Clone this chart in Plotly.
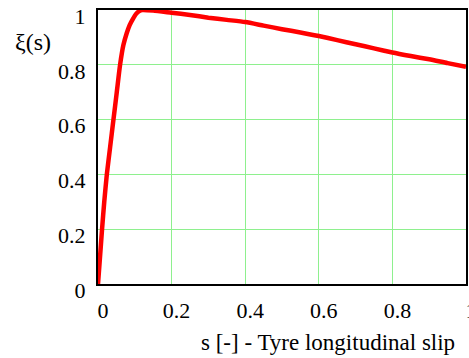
import plotly.graph_objects as go

# Tyre longitudinal slip s and normalised friction xi(s)
slip = [0, 0.005, 0.011, 0.017, 0.024, 0.033, 0.042, 0.051, 0.06, 0.069, 0.078,
        0.086, 0.095, 0.103, 0.112, 0.12, 0.15, 0.2, 0.25, 0.3, 0.35, 0.4, 0.45,
        0.5, 0.55, 0.6, 0.65, 0.7, 0.75, 0.8, 0.85, 0.9, 0.95, 1.0]
xi = [0, 0.09, 0.2, 0.3, 0.4, 0.5, 0.6, 0.7, 0.8, 0.872, 0.915,
      0.945, 0.968, 0.985, 0.996, 1.0, 0.998, 0.99, 0.982, 0.972, 0.964, 0.956, 0.943,
      0.93, 0.918, 0.905, 0.89, 0.875, 0.86, 0.845, 0.832, 0.82, 0.806, 0.793]

tick_vals = [0, 0.2, 0.4, 0.6, 0.8, 1.0]
tick_text = ["0", "0.2", "0.4", "0.6", "0.8", "1"]

x_title = "s [-] - Tyre longitudinal slip"
y_title = "ξ(s)"

FONT = "Liberation Serif, Times New Roman, serif"
GRID = "#8ef08e"

fig = go.Figure()
fig.add_trace(go.Scatter(x=slip, y=xi, mode="lines",
                         line=dict(color="#ff0000", width=4.5, shape="spline", smoothing=0.6),
                         showlegend=False, hoverinfo="skip"))

axis_common = dict(
    tickvals=tick_vals, ticktext=tick_text,
    showgrid=True, gridcolor=GRID, gridwidth=1,
    zeroline=False, showline=True, linecolor="black", linewidth=2, mirror=True,
    ticks="", ticklen=0, tickfont=dict(family=FONT, size=22, color="black"),
    ticklabeloverflow="allow", automargin=False,
)

fig.update_layout(
    width=469, height=358,
    margin=dict(l=98, r=3, t=10, b=74, autoexpand=False),
    paper_bgcolor="white", plot_bgcolor="white",
    xaxis=dict(range=[0, 1], ticklabelshift=5, ticklabelstandoff=6, **axis_common),
    yaxis=dict(range=[0, 1], ticklabelshift=6, ticklabelstandoff=6, **axis_common),
    annotations=[
        dict(text=x_title, xref="paper", yref="paper", x=0.2745, y=-0.2117,
             xanchor="left", yanchor="middle", showarrow=False,
             font=dict(family=FONT, size=23, color="black")),
        dict(text=y_title, xref="paper", yref="paper", x=-0.231, y=0.883,
             xanchor="left", yanchor="middle", showarrow=False,
             font=dict(family=FONT, size=24, color="black")),
    ],
)

fig.write_html("out.html", config={"displayModeBar": False},
               post_script="document.body.style.margin='0';document.body.style.padding='0';"
                           "document.body.style.overflow='hidden';")
